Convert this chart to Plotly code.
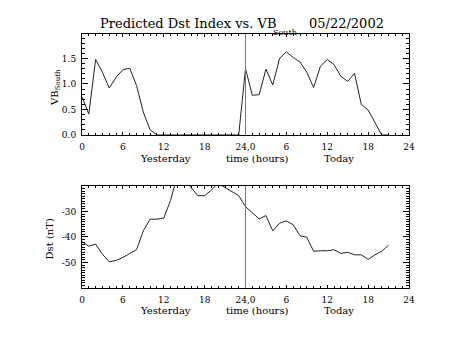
import plotly.graph_objects as go
from plotly.subplots import make_subplots

# ---- data ----
hours = list(range(46))
vb_south = [0.75, 0.41, 1.48, 1.23, 0.92, 1.13, 1.28, 1.31, 0.97, 0.45,
            0.10, 0.0, 0.0, 0.0, 0.0, 0.0, 0.0, 0.0, 0.0, 0.0,
            0.0, 0.0, 0.0, 0.0, 1.30, 0.78, 0.79, 1.29, 0.98, 1.50,
            1.63, 1.52, 1.43, 1.23, 0.93, 1.35, 1.48, 1.38, 1.15, 1.05,
            1.21, 0.60, 0.49, 0.25, 0.0, 0.0]
dst = [-41.8, -43.6, -42.8, -46.8, -49.7, -49.2, -48.0, -46.6, -45.0, -37.6,
       -33.0, -33.0, -32.6, -25.6, -16.0, -15.5, -20.6, -23.8, -23.8, -21.6,
       -18.8, -20.6, -22.3, -23.8, -28.1, -30.5, -32.9, -31.6, -37.6, -34.6,
       -33.7, -35.2, -39.5, -40.1, -45.6, -45.4, -45.4, -45.0, -46.4, -46.0,
       -47.0, -47.0, -48.8, -47.0, -45.6, -43.2]
x_tickvals = [0, 6, 12, 18, 24, 30, 36, 42, 48]
x_ticktext = ["0", "6", "12", "18", "24,0", "6", "12", "18", "24"]
vb_tickvals = [0.0, 0.5, 1.0, 1.5]
vb_ticktext = ["0.0", "0.5", "1.0", "1.5"]
dst_tickvals = [-50, -40, -30]
dst_ticktext = ["-50", "-40", "-30"]
day_boundary = 24
title_main = "Predicted Dst Index vs. VB"
title_sub = "South"
date_text = "05/22/2002"

FONT = "DejaVu Serif"
LINE = "#222222"

fig = make_subplots(rows=2, cols=1, vertical_spacing=0.0)
fig.add_trace(go.Scatter(x=hours, y=vb_south, mode="lines",
                         line=dict(color=LINE, width=1), showlegend=False), row=1, col=1)
fig.add_trace(go.Scatter(x=hours, y=dst, mode="lines",
                         line=dict(color=LINE, width=1), showlegend=False), row=2, col=1)

xcommon = dict(range=[0, 48], tickvals=x_tickvals, ticktext=x_ticktext,
               ticks="inside", ticklen=3, tickcolor="black", tickwidth=1,
               showline=True, linecolor="black", linewidth=1, mirror="allticks",
               showgrid=False, zeroline=False, ticklabelstandoff=3,
               minor=dict(ticks="inside", dtick=1, ticklen=2, tickcolor="black", showgrid=False),
               tickfont=dict(family=FONT, size=9, color="black"))
fig.update_xaxes(**xcommon)
fig.update_layout(
    xaxis=dict(domain=[0, 1], anchor="y"),
    xaxis2=dict(domain=[0, 1], anchor="y2"),
    yaxis=dict(domain=[0.6024, 1.0], range=[0, 1.98], tickvals=vb_tickvals, ticktext=vb_ticktext,
               minor=dict(ticks="inside", dtick=0.1, tick0=0, ticklen=3, tickcolor="black", showgrid=False)),
    yaxis2=dict(domain=[0.0, 0.4016], range=[-60, -20], tickvals=dst_tickvals, ticktext=dst_ticktext,
                minor=dict(ticks="inside", dtick=1, tick0=0, ticklen=3, tickcolor="black", showgrid=False)),
)
fig.update_yaxes(ticks="inside", ticklen=6, tickcolor="black", tickwidth=1,
                 showline=True, linecolor="black", linewidth=1, mirror="allticks",
                 showgrid=False, zeroline=False, ticklabelstandoff=3,
                 tickfont=dict(family=FONT, size=9, color="black"))

for yref in ["y domain", "y2 domain"]:
    fig.add_shape(type="line", xref="x" if yref == "y domain" else "x2", yref=yref,
                  x0=day_boundary, x1=day_boundary, y0=0, y1=1,
                  line=dict(color="#777777", width=1))

ann = []
ann.append(dict(text=title_main, x=0.0529, y=1.0394, xref="paper", yref="paper",
                xanchor="left", yanchor="middle", showarrow=False, borderpad=0,
                font=dict(family=FONT, size=13, color="black")))
ann.append(dict(text=title_sub, x=0.5814, y=1.006, xref="paper", yref="paper",
                xanchor="left", yanchor="middle", showarrow=False, borderpad=0,
                font=dict(family=FONT, size=8, color="black")))
ann.append(dict(text=date_text, x=0.6917, y=1.0394, xref="paper", yref="paper",
                xanchor="left", yanchor="middle", showarrow=False, borderpad=0,
                font=dict(family=FONT, size=13, color="black")))
for ypos in [0.5118, -0.0886]:
    for txt, xp in [("Yesterday", 0.256), ("time (hours)", 0.5356), ("Today", 0.786)]:
        ann.append(dict(text=txt, x=xp, y=ypos, xref="paper", yref="paper",
                        xanchor="center", yanchor="middle", showarrow=False,
                        font=dict(family=FONT, size=10, color="black")))
ann.append(dict(text="VB<sub>South</sub>", x=-0.0816, y=0.789, xref="paper", yref="paper",
                xanchor="center", yanchor="middle", textangle=-90, showarrow=False,
                font=dict(family=FONT, size=10, color="black")))
ann.append(dict(text="Dst (nT)", x=-0.101, y=0.195, xref="paper", yref="paper",
                xanchor="center", yanchor="middle", textangle=-90, showarrow=False,
                font=dict(family=FONT, size=10, color="black")))

fig.update_layout(annotations=ann, width=453, height=340,
                  margin=dict(l=82, r=44, t=34, b=52),
                  paper_bgcolor="white", plot_bgcolor="white")

fig.write_html("out.html")
